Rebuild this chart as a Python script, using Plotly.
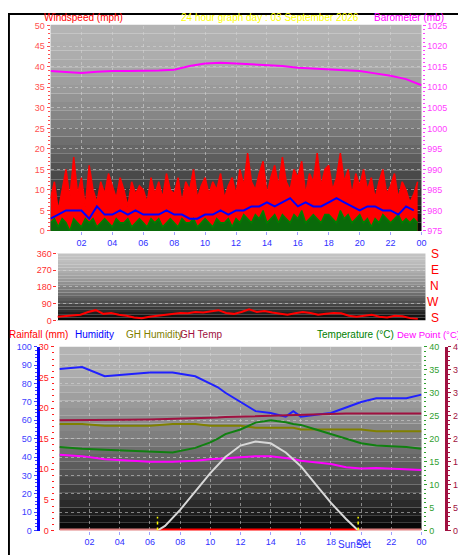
import plotly.graph_objects as go

W, H = 466, 555

# --- data ---
hours_tick = [2, 4, 6, 8, 10, 12, 14, 16, 18, 20, 22, 24]
tick_text = ["02", "04", "06", "08", "10", "12", "14", "16", "18", "20", "22", "00"]

gust = [8, 12, 5, 10, 15, 8, 18, 9, 13, 6, 16, 10, 7, 12, 9, 14, 11, 8, 13, 10, 6, 12, 9, 11,
        10, 7, 13, 9, 12, 8, 14, 10, 9, 13, 7, 12, 10, 15, 8, 11, 13, 9, 12, 10, 14, 8, 11, 13,
        9, 15, 11, 19, 12, 10, 14, 17, 9, 13, 16, 11, 18, 12, 10, 15, 13, 17, 9, 14, 12, 19, 11, 15,
        16, 10, 13, 19, 12, 15, 9, 14, 11, 15, 10, 13, 8, 12, 15, 9, 11, 14, 8, 12, 10, 7, 9, 12]
speed = [2, 3, 1, 3, 2, 0, 3, 2, 1, 3, 2, 3, 1, 2, 3, 2, 1, 3, 2, 2, 3, 1, 2, 3,
         2, 1, 3, 2, 3, 1, 2, 3, 2, 1, 3, 2, 2, 3, 1, 2, 3, 2, 1, 3, 2, 2, 3, 1,
         3, 2, 4, 3, 2, 4, 3, 5, 2, 3, 4, 2, 4, 3, 2, 4, 3, 5, 2, 3, 4, 3, 2, 4,
         4, 3, 2, 5, 3, 4, 2, 3, 4, 2, 3, 1, 3, 2, 4, 3, 2, 3, 4, 2, 3, 2, 3, 2]
avg_wind = [3, 4, 5, 5, 5, 3, 6, 4, 4, 5, 4, 5, 4, 4, 4, 5, 4, 4, 3, 3, 4, 4, 5, 4,
            5, 5, 6, 6, 7, 6, 7, 8, 6, 7, 6, 6, 7, 8, 7, 6, 5, 6, 6, 5, 5, 4, 6, 5]
wind_dir = [20, 22, 25, 30, 45, 55, 35, 40, 30, 25, 15, 12, 20, 25, 30, 35, 40, 38, 45, 42, 50, 55, 40, 35,
            45, 60, 45, 50, 42, 35, 30, 38, 45, 40, 30, 35, 40, 38, 25, 20, 25, 30, 20, 15, 25, 22, 12, 8]
t_hour = list(range(25))
baro = [1014, 1013.8, 1013.5, 1013.8, 1014, 1014, 1014, 1014.1, 1014.3, 1015.2, 1015.8, 1016, 1015.8,
        1015.6, 1015.5, 1015.2, 1014.8, 1014.6, 1014.5, 1014.2, 1014, 1013.4, 1012.8, 1012, 1010.5]

t_clim = [0, 1.5, 3, 4.5, 6, 7.5, 9, 10, 10.5, 11, 12, 13, 14, 15, 15.5, 16, 17, 18, 19, 20, 21, 22, 23, 24]
humidity = [88, 89, 84, 85, 86, 86, 84, 80, 78, 75, 70, 65, 64, 62, 65, 62, 63, 64, 67, 70, 72, 72, 72, 74]
gh_humidity = [58, 58, 57, 57, 57, 58, 58, 57, 57, 57, 57, 56, 56, 56, 56, 55, 55, 55, 55, 55, 54, 54, 54, 54]
gh_temp = [24, 24, 24, 24.1, 24.2, 24.3, 24.4, 24.5, 24.6, 24.7, 24.8, 25, 25, 25.2, 25.2, 25.3, 25.4, 25.5, 25.5, 25.5, 25.5, 25.5, 25.5, 25.5]
temperature = [18.2, 17.8, 17.6, 17.4, 17.3, 17, 18, 19.2, 20, 21, 22, 23.5, 24, 23.6, 23.2, 23, 22, 21, 20, 19, 18.5, 18.3, 18.2, 17.8]
dew_point = [16.5, 16.2, 15.5, 15.2, 15, 15, 15.2, 15.5, 15.6, 15.8, 16, 16.2, 16.2, 15.8, 15.6, 15.2, 14.8, 14.5, 13.8, 13.5, 13.6, 13.5, 13.4, 13.2]
t_sun = [6.5, 7, 8, 9, 10, 11, 12, 13, 14, 15, 16, 17, 18, 19, 19.8]
sun = [0, 1, 4.5, 8.5, 12.5, 16, 18.5, 19.4, 19, 17, 14, 10, 6, 2.5, 0]
t_rain = [0, 6.5, 19.8, 24]
rain = [0, 0, 0, 0]
sunrise, sunset = 6.5, 19.8

t96 = [i * 0.25 for i in range(96)]
t48 = [i * 0.5 for i in range(48)]


def px(x):
    return x / W


def py(y):
    return 1 - y / H


fig = go.Figure()

# panel 1 wind / baro
fig.add_trace(go.Scatter(x=t96, y=gust, mode="lines", line=dict(color="#ff0000", width=1.5),
                         fill="tozeroy", fillcolor="#ff0000", xaxis="x", yaxis="y"))
fig.add_trace(go.Scatter(x=t96, y=speed, mode="lines", line=dict(color="#008000", width=1.5),
                         fill="tozeroy", fillcolor="#0a6a0a", xaxis="x", yaxis="y"))
fig.add_trace(go.Scatter(x=t48, y=avg_wind, mode="lines", line=dict(color="#0000ff", width=2),
                         xaxis="x", yaxis="y"))
fig.add_trace(go.Scatter(x=t_hour, y=baro, mode="lines", line=dict(color="#ff00ff", width=2),
                         xaxis="x", yaxis="y2"))

# panel 2 wind direction
fig.add_trace(go.Scatter(x=t48, y=wind_dir, mode="lines", line=dict(color="#ff0000", width=2),
                         xaxis="x2", yaxis="y3"))

# panel 3
fig.add_trace(go.Scatter(x=t_clim, y=humidity, mode="lines", line=dict(color="#2020ff", width=2),
                         xaxis="x3", yaxis="y4"))
fig.add_trace(go.Scatter(x=t_clim, y=gh_humidity, mode="lines", line=dict(color="#808000", width=2),
                         xaxis="x3", yaxis="y4"))
fig.add_trace(go.Scatter(x=t_clim, y=gh_temp, mode="lines", line=dict(color="#a01040", width=2),
                         xaxis="x3", yaxis="y6"))
fig.add_trace(go.Scatter(x=t_clim, y=temperature, mode="lines", line=dict(color="#108010", width=2),
                         xaxis="x3", yaxis="y6"))
fig.add_trace(go.Scatter(x=t_clim, y=dew_point, mode="lines", line=dict(color="#ff00ff", width=2),
                         xaxis="x3", yaxis="y6"))
fig.add_trace(go.Scatter(x=t_sun, y=sun, mode="lines", line=dict(color="#d8d8d8", width=2),
                         xaxis="x3", yaxis="y6"))
fig.add_trace(go.Scatter(x=t_rain[:2], y=rain[:2], mode="lines", line=dict(color="#e08080", width=4),
                         xaxis="x3", yaxis="y5"))
fig.add_trace(go.Scatter(x=t_rain[1:3], y=rain[1:3], mode="lines", line=dict(color="#ff0000", width=4),
                         xaxis="x3", yaxis="y5"))
fig.add_trace(go.Scatter(x=t_rain[2:], y=rain[2:], mode="lines", line=dict(color="#e08080", width=4),
                         xaxis="x3", yaxis="y5"))
for t in (sunrise, sunset):
    fig.add_trace(go.Scatter(x=[t, t], y=[0, 3], mode="lines",
                             line=dict(color="#ffff00", width=1.5, dash="dot"), xaxis="x3", yaxis="y6"))

# gradient backgrounds (light at top, black at bottom)
panels = [(43, 418, 12, 222, 180), (50, 422, 245, 313, 195), (52, 418, 340, 527, 180)]
shapes = []
for x0, x1, y0, y1, top in panels:
    n = 24
    for i in range(n):
        g = int(top - (top - 8) * (i / (n - 1)) ** 1.6)
        shapes.append(dict(type="rect", xref="paper", yref="paper", layer="below",
                           x0=px(x0), x1=px(x1), y0=py(y0 + (y1 - y0) * i / n),
                           y1=py(y0 + (y1 - y0) * (i + 1) / n),
                           fillcolor=f"rgb({g},{g},{g})", line=dict(width=0)))
shapes.append(dict(type="rect", xref="paper", yref="paper", x0=0.002, x1=0.998, y0=0.002, y1=0.998,
                   line=dict(color="black", width=2)))

grid = dict(showgrid=True, gridcolor="rgba(215,215,215,0.55)", griddash="dot", zeroline=False)
font = dict(family="Liberation Sans, Arial", size=9)
xcommon = dict(range=[0, 24], tickvals=hours_tick, ticktext=tick_text,
               tickfont=dict(color="#3030ff", size=9), ticks="outside", ticklen=3,
               tickcolor="#a0a0ff", **grid)


def yax(color, rng, dtick, side="left", **kw):
    d = dict(range=rng, dtick=dtick, side=side, tickfont=dict(color=color, size=9),
             ticks="outside", ticklen=3, tickcolor=color,
             minor=dict(ticks="outside", ticklen=2, tickcolor=color, nticks=5))
    d.update(kw)
    return d


fig.update_layout(
    width=W, height=H, margin=dict(l=0, r=0, t=0, b=0),
    paper_bgcolor="white", plot_bgcolor="rgba(0,0,0,0)",
    showlegend=False, font=font, shapes=shapes,
    xaxis=dict(domain=[px(43), px(418)], anchor="y", **xcommon),
    yaxis=dict(domain=[py(222), py(13)], **yax("#ff5050", [0, 50], 5), **grid),
    yaxis2=dict(overlaying="y", anchor="x", **yax("#ff40ff", [975, 1025], 5, side="right"), showgrid=False),
    xaxis2=dict(domain=[px(50), px(422)], anchor="y3", range=[0, 24], showticklabels=False,
                showgrid=False, tickvals=hours_tick),
    yaxis3=dict(domain=[py(313), py(245)], anchor="x2", **yax("#ff3030", [0, 360], 90), **grid),
    xaxis3=dict(domain=[px(52), px(418)], anchor="y4", **xcommon),
    yaxis4=dict(domain=[py(527), py(340)], anchor="free", position=px(30),
                showline=True, linecolor="#0000ff", linewidth=3,
                **yax("#4040ff", [0, 100], 10), **grid),
    yaxis5=dict(overlaying="y4", anchor="free", position=px(46), showgrid=False,
                **yax("#ff2020", [0, 30], 5)),
    yaxis6=dict(overlaying="y4", anchor="free", position=px(420), showgrid=False,
                **yax("#30a030", [0, 40], 5, side="right")),
    yaxis7=dict(overlaying="y4", anchor="free", position=px(443), showgrid=False,
                showline=True, linecolor="#a01040", linewidth=3,
                **yax("#a01040", [0, 40], 5, side="right")),
)
# invisible trace so the dew point axis is drawn
fig.add_trace(go.Scatter(x=[0], y=[0], mode="markers", marker=dict(opacity=0),
                         xaxis="x3", yaxis="y7", hoverinfo="skip"))

ann = [
    (35, 5, "Windspeed (mph)", "#ff0000", "left", 10),
    (265, 5, "24 hour graph day : 03 September 2026", "#ffff00", "center", 10),
    (442, 5, "Barometer (mb)", "#ff00ff", "right", 10),
    (0, 327, "Rainfall (mm)", "#ff0000", "left", 10),
    (67, 327, "Humidity", "#0000ff", "left", 10),
    (118, 327, "GH Humidity", "#808000", "left", 10),
    (173, 327, "GH Temp", "#a01040", "left", 10),
    (391, 327, "Temperature (°C)", "#008000", "right", 10),
    (392, 327, "Dew Point (°C)", "#ff00ff", "left", 9.5),
    (350, 541, "SunSet", "#3030ff", "center", 10),
]
for x, y, text, color, al, sz in ann:
    fig.add_annotation(x=px(x), y=py(y), xref="paper", yref="paper", text=text, showarrow=False,
                       xanchor=al, yanchor="middle", font=dict(color=color, size=sz), borderpad=0)
for i, lbl in enumerate(["S", "E", "N", "W", "S"]):
    fig.add_annotation(x=px(438), y=py(245 + i * 16.5), xref="paper", yref="paper", text=lbl,
                       showarrow=False, font=dict(color="#ff0000", size=12))

fig.write_html("out.html")
